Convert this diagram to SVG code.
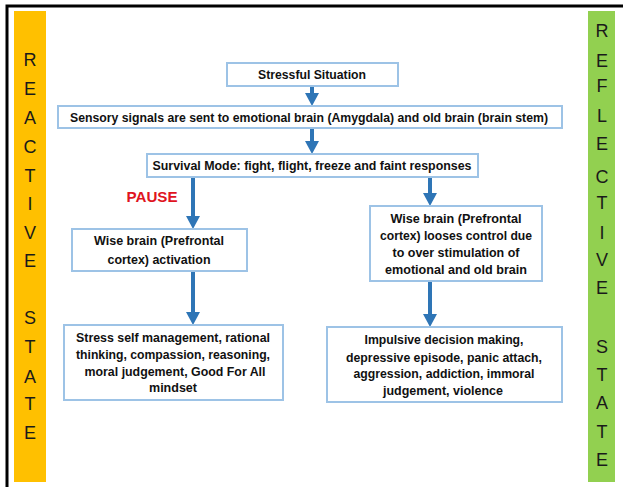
<svg xmlns="http://www.w3.org/2000/svg" width="623" height="487" viewBox="0 0 623 487">
<defs>
<style>
.box{fill:#fff;stroke:#9DC3E6;stroke-width:2}
.t{font-family:"Liberation Sans",Arial,sans-serif;font-weight:bold;font-size:12.5px;fill:#111;text-anchor:middle}
.side{font-family:"Liberation Sans",Arial,sans-serif;font-size:18px;fill:#1a1a1a;text-anchor:middle}
.conn{stroke:#2E75B6;stroke-width:4;fill:none}
</style>
<marker id="ah" markerUnits="userSpaceOnUse" viewBox="0 0 13 14" markerWidth="13" markerHeight="14" refX="0" refY="7" orient="auto">
<path d="M0,0 L13,7 L0,14 z" fill="#2E75B6"/>
</marker>
</defs>
<rect x="0" y="0" width="623" height="487" fill="#fff"/>
<path d="M7,500 V6 H630" fill="none" stroke="#000" stroke-width="3"/>

<g id="reactive-bar">
<rect x="14" y="11" width="32" height="471" fill="#FFC000"/>
<text class="side" x="30" y="66">R</text>
<text class="side" x="30" y="95">E</text>
<text class="side" x="30" y="124">A</text>
<text class="side" x="30" y="153">C</text>
<text class="side" x="30" y="182">T</text>
<text class="side" x="30" y="210">I</text>
<text class="side" x="30" y="239">V</text>
<text class="side" x="30" y="267">E</text>
<text class="side" x="30" y="324">S</text>
<text class="side" x="30" y="353">T</text>
<text class="side" x="30" y="383">A</text>
<text class="side" x="30" y="410">T</text>
<text class="side" x="30" y="439">E</text>
</g>

<g id="reflective-bar">
<rect x="588" y="11" width="27" height="471" fill="#92D050"/>
<text class="side" x="602" y="37">R</text>
<text class="side" x="602" y="67">E</text>
<text class="side" x="602" y="92">F</text>
<text class="side" x="602" y="122">L</text>
<text class="side" x="602" y="150">E</text>
<text class="side" x="602" y="183">C</text>
<text class="side" x="602" y="209">T</text>
<text class="side" x="602" y="239">I</text>
<text class="side" x="602" y="266">V</text>
<text class="side" x="602" y="294">E</text>
<text class="side" x="602" y="353">S</text>
<text class="side" x="602" y="381">T</text>
<text class="side" x="602" y="409">A</text>
<text class="side" x="602" y="438">T</text>
<text class="side" x="602" y="466">E</text>
</g>

<g id="connectors">
<line class="conn" x1="312" y1="86" x2="312" y2="93" marker-end="url(#ah)"/>
<line class="conn" x1="312" y1="128" x2="312" y2="141" marker-end="url(#ah)"/>
<line class="conn" x1="193" y1="177" x2="193" y2="216" marker-end="url(#ah)"/>
<line class="conn" x1="430" y1="177" x2="430" y2="193" marker-end="url(#ah)"/>
<line class="conn" x1="193" y1="271" x2="193" y2="312" marker-end="url(#ah)"/>
<line class="conn" x1="430" y1="281" x2="430" y2="314" marker-end="url(#ah)"/>
</g>

<g id="stressful-situation">
<rect class="box" x="227" y="63" width="171" height="23"/>
<text class="t" x="312" y="79" textLength="108" lengthAdjust="spacingAndGlyphs">Stressful Situation</text>
</g>

<g id="sensory-signals">
<rect class="box" x="58" y="106" width="504" height="22"/>
<text class="t" x="309" y="121.5" textLength="478" lengthAdjust="spacingAndGlyphs">Sensory signals are sent to emotional brain (Amygdala) and old brain (brain stem)</text>
</g>

<g id="survival-mode">
<rect class="box" x="147" y="154" width="331" height="23"/>
<text class="t" x="312" y="170" textLength="319" lengthAdjust="spacingAndGlyphs">Survival Mode: fight, flight, freeze and faint responses</text>
</g>

<g id="pause">
<text x="152" y="202" text-anchor="middle" font-family="'Liberation Sans',Arial,sans-serif" font-weight="bold" font-size="15px" fill="#E0141E" textLength="51" lengthAdjust="spacingAndGlyphs">PAUSE</text>
</g>

<g id="wise-activation">
<rect class="box" x="72" y="229" width="175" height="42"/>
<text class="t" x="159" y="244.5" textLength="130" lengthAdjust="spacingAndGlyphs">Wise brain (Prefrontal</text>
<text class="t" x="159" y="263.5" textLength="103" lengthAdjust="spacingAndGlyphs">cortex) activation</text>
</g>

<g id="wise-loses-control">
<rect class="box" x="370" y="206" width="172" height="75"/>
<text class="t" x="456" y="222.5" textLength="131" lengthAdjust="spacingAndGlyphs">Wise brain (Prefrontal</text>
<text class="t" x="456" y="239.5" textLength="152" lengthAdjust="spacingAndGlyphs">cortex) looses control due</text>
<text class="t" x="456" y="256.5" textLength="127" lengthAdjust="spacingAndGlyphs">to over stimulation of</text>
<text class="t" x="456" y="273.5" textLength="142" lengthAdjust="spacingAndGlyphs">emotional and old brain</text>
</g>

<g id="stress-management">
<rect class="box" x="64" y="325" width="219" height="75"/>
<text class="t" x="173" y="341.5" textLength="194" lengthAdjust="spacingAndGlyphs">Stress self management, rational</text>
<text class="t" x="173" y="358.5" textLength="194" lengthAdjust="spacingAndGlyphs">thinking, compassion, reasoning,</text>
<text class="t" x="175" y="375.5" textLength="181" lengthAdjust="spacingAndGlyphs">moral judgement, Good For All</text>
<text class="t" x="173" y="391.5" textLength="48" lengthAdjust="spacingAndGlyphs">mindset</text>
</g>

<g id="impulsive">
<rect class="box" x="327" y="327" width="235" height="75"/>
<text class="t" x="444" y="343.5" textLength="159" lengthAdjust="spacingAndGlyphs">Impulsive decision making,</text>
<text class="t" x="444" y="361.5" textLength="196" lengthAdjust="spacingAndGlyphs">depressive episode, panic attach,</text>
<text class="t" x="444" y="377.5" textLength="181" lengthAdjust="spacingAndGlyphs">aggression, addiction, immoral</text>
<text class="t" x="443" y="394.5" textLength="120" lengthAdjust="spacingAndGlyphs">judgement, violence</text>
</g>
</svg>
